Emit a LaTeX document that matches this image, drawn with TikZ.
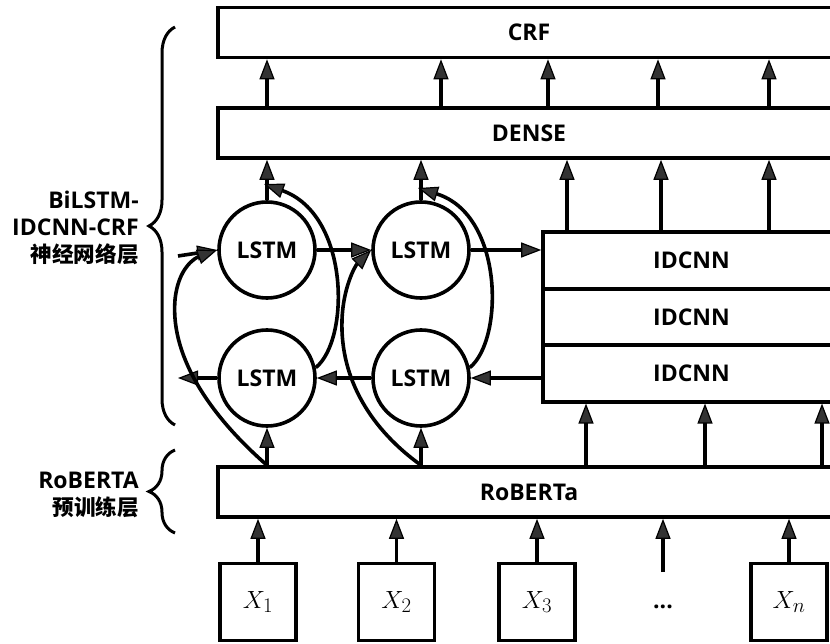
\documentclass[tikz,border=0pt]{standalone}
\usepackage{fontspec}
\setmainfont{Open Sans}
\newfontfamily\cjk{Noto Sans CJK SC}[UprightFont=* Bold]
\usetikzlibrary{arrows.meta,decorations.pathreplacing}
\DeclareMathSizes{24.88}{24.88}{20.74}{17.28}
\newcommand\lbl{\fontsize{23}{27}\selectfont\bfseries}
\newcommand\hanzi{\cjk\fontsize{21.6}{27}\selectfont}

\begin{document}
\begin{tikzpicture}[x=1pt,y=-1pt,
  every node/.style={inner sep=0pt},
  layer/.style={draw,line width=3.6pt,minimum width=622pt,minimum height=50pt,font=\lbl},
  conv/.style={draw,line width=3.6pt,minimum width=297pt,minimum height=56.5pt,font=\lbl},
  cell/.style={draw,circle,line width=3.6pt,minimum size=96pt,font=\lbl},
  tok/.style={draw,line width=3.6pt,minimum width=76pt,minimum height=77pt,font=\fontsize{24.88}{28}\selectfont},
  link/.style={line width=3.6pt,-{Triangle[length=20pt,width=15pt,fill=black!80,line width=1.2pt]}},
  brc/.style={decorate,decoration={brace,amplitude=26pt},line width=3pt},
  side/.style={anchor=east,align=right,font=\lbl}
]
\useasboundingbox (0,0) rectangle (830,644);
\clip (0,0) rectangle (830,644);

% layers
\node[layer] (crf)   at (529,32.5) {CRF};
\node[layer] (dense) at (529,133)  {DENSE};
\node[conv]  (c1)    at (691.5,260.5) {IDCNN};
\node[conv]  (c2)    at (691.5,317)   {IDCNN};
\node[conv]  (c3)    at (691.5,373.5) {IDCNN};
\node[layer] (rob)   at (529,492)  {RoBERTa};

% BiLSTM cells
\node[cell] (tl) at (267,250) {LSTM};
\node[cell] (tr) at (421,250) {LSTM};
\node[cell] (bl) at (267,378) {LSTM};
\node[cell] (br) at (421,378) {LSTM};

% input tokens
\node[tok] (x1) at (258,602)   {$X_1$};
\node[tok] (x2) at (396.5,602) {$X_2$};
\node[tok] (x3) at (537,602)   {$X_3$};
\node[tok] (xn) at (789,602)   {$X_n$};
\node[font=\lbl] (dots) at (663,607) {...};
\coordinate (dstart) at (663,572);

% DENSE -> CRF
\foreach \x in {267,441,548,658,769}
  \draw[link] (\x,0 |- dense.north) -- (\x,0 |- crf.south);

% LSTM / IDCNN -> DENSE
\draw[link] (tl.north) -- (tl.north |- dense.south);
\draw[link] (tr.north) -- (tr.north |- dense.south);
\foreach \x in {567,661,769}
  \draw[link] (\x,0 |- c1.north) -- (\x,0 |- dense.south);

% RoBERTa -> LSTM / IDCNN
\draw[link] (bl.south |- rob.north) -- (bl.south);
\draw[link] (br.south |- rob.north) -- (br.south);
\foreach \x in {586,705,822}
  \draw[link] (\x,0 |- rob.north) -- (\x,0 |- c3.south);

% tokens -> RoBERTa
\foreach \t in {x1,x2,x3,xn}
  \draw[link] (\t.north) -- (\t.north |- rob.south);
\draw[link] (dstart) -- (dstart |- rob.south);

% forward / backward chains
\coordinate (inL) at (178,256);
\coordinate (outL) at (178,378);
\draw[link] (inL) -- (tl.west);
\draw[link] (tl.east) -- (tr.west);
\draw[link] (tr.east) -- (tr.east -| c1.west);
\draw[link] (br.east -| c3.west) -- (br.east);
\draw[link] (br.west) -- (bl.east);
\draw[link] (bl.west) -- (outL);

% backward outputs joining the upward arrows
\coordinate (ta) at (264,184);
\coordinate (tb) at (418,188);
\draw[link] (bl.12) .. controls (350,340) and (350,215) .. (ta);
\draw[link] (br.12) .. controls (504,340) and (504,215) .. (tb);

% embeddings feeding the forward cells
\draw[link] (bl.south |- rob.north) .. controls (215,420) and (170,360) .. (175,300)
            .. controls (178,268) and (195,258) .. (tl.west);
\draw[link] (br.south |- rob.north) .. controls (372,430) and (340,380) .. (342,320)
            .. controls (343,288) and (355,266) .. (tr.west);

% layer braces and labels
\draw[brc] (175,425) -- (175,27);
\draw[brc] (175,533) -- (175,450);
\node[side] (lab1) at (139,228) {BiLSTM-\\IDCNN-CRF\\{\hanzi 神经网络层}};
\node[side] (lab2) at (139,495) {RoBERTA\\{\hanzi 预训练层}};
\end{tikzpicture}
\end{document}
